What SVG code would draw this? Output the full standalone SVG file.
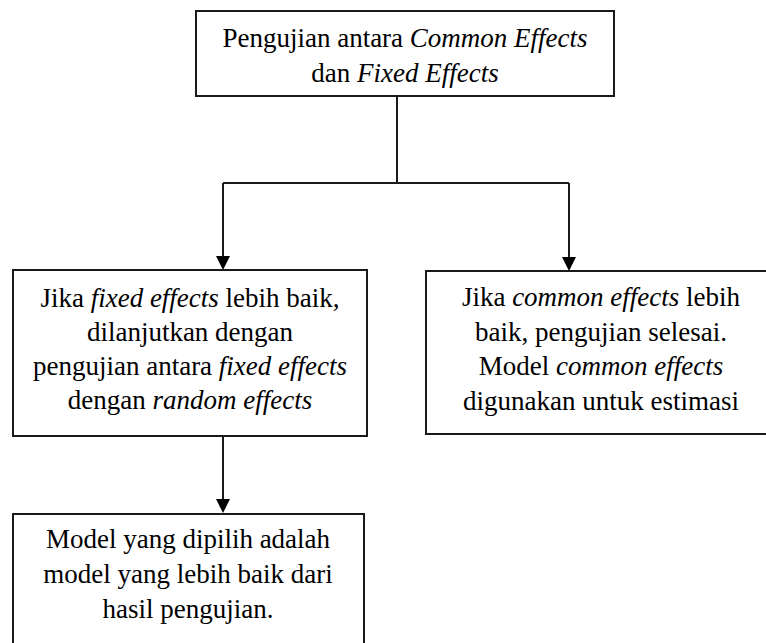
<svg xmlns="http://www.w3.org/2000/svg" width="766" height="643" viewBox="0 0 766 643">
  <defs>
    <style>
      .box { fill: #fff; stroke: #1a1a1a; stroke-width: 2; }
      .ln { fill: none; stroke: #1a1a1a; stroke-width: 2; }
      .head { fill: #000; }
    </style>
  </defs>
  <rect width="766" height="643" fill="#fff"/>

  <g id="connectors">
    <path class="ln" d="M397,96 L397,183"/>
    <path class="ln" d="M223,183 L569,183"/>
    <path class="ln" d="M223,183 L223,256"/>
    <path class="head" d="M216,256 L230,256 L223,270 Z"/>
    <path class="ln" d="M569,183 L569,257"/>
    <path class="head" d="M562,257 L576,257 L569,271 Z"/>
    <path class="ln" d="M223,436 L223,499"/>
    <path class="head" d="M216,499 L230,499 L223,513 Z"/>
  </g>

  <g id="node-top">
    <rect class="box" x="196" y="11" width="418" height="85"/>
    <text x="405" y="47" font-family="Liberation Serif" font-size="27" text-anchor="middle">Pengujian antara <tspan font-style="italic">Common Effects</tspan></text>
    <text x="405" y="82" font-family="Liberation Serif" font-size="27" text-anchor="middle">dan <tspan font-style="italic">Fixed Effects</tspan></text>
  </g>

  <g id="node-left">
    <rect class="box" x="13" y="270" width="354" height="166"/>
    <text x="190" y="307" font-family="Liberation Serif" font-size="27" text-anchor="middle">Jika <tspan font-style="italic">fixed effects</tspan> lebih baik,</text>
    <text x="190" y="341" font-family="Liberation Serif" font-size="27" text-anchor="middle">dilanjutkan dengan</text>
    <text x="190" y="375" font-family="Liberation Serif" font-size="27" text-anchor="middle">pengujian antara <tspan font-style="italic">fixed effects</tspan></text>
    <text x="190" y="409" font-family="Liberation Serif" font-size="27" text-anchor="middle">dengan <tspan font-style="italic">random effects</tspan></text>
  </g>

  <g id="node-right">
    <rect class="box" x="426" y="271" width="354" height="163"/>
    <text x="601" y="306" font-family="Liberation Serif" font-size="27" text-anchor="middle">Jika <tspan font-style="italic">common effects</tspan> lebih</text>
    <text x="601" y="341" font-family="Liberation Serif" font-size="27" text-anchor="middle">baik, pengujian selesai.</text>
    <text x="601" y="375" font-family="Liberation Serif" font-size="27" text-anchor="middle">Model <tspan font-style="italic">common effects</tspan></text>
    <text x="601" y="410" font-family="Liberation Serif" font-size="27" text-anchor="middle">digunakan untuk estimasi</text>
  </g>

  <g id="node-bottom">
    <rect class="box" x="13" y="514" width="351" height="150"/>
    <text x="188" y="548" font-family="Liberation Serif" font-size="27" text-anchor="middle">Model yang dipilih adalah</text>
    <text x="188" y="583" font-family="Liberation Serif" font-size="27" text-anchor="middle">model yang lebih baik dari</text>
    <text x="188" y="618" font-family="Liberation Serif" font-size="27" text-anchor="middle">hasil pengujian.</text>
  </g>
</svg>
